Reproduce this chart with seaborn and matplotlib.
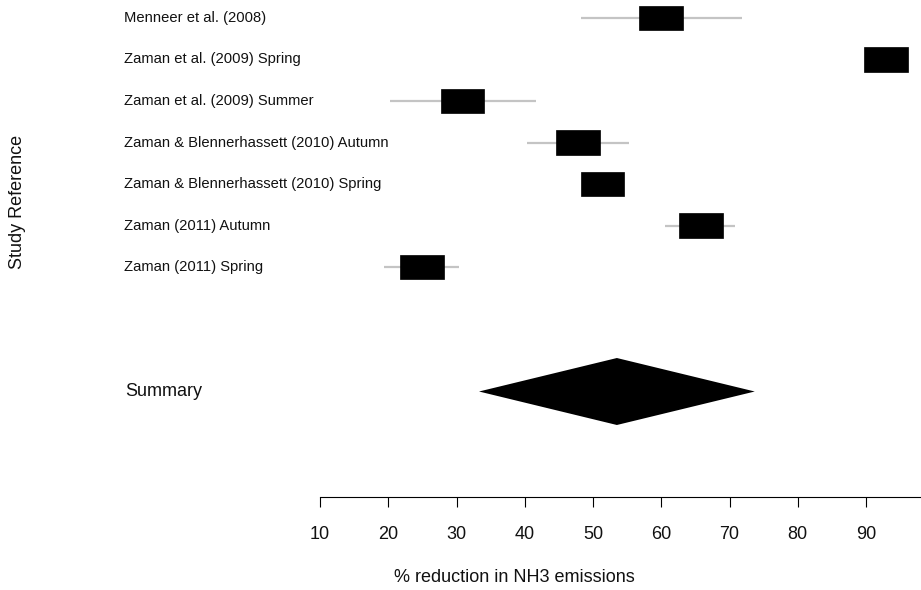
import matplotlib
matplotlib.use("Agg")
import matplotlib.pyplot as plt
import matplotlib.transforms as mtransforms
import numpy as np
import pandas as pd
import seaborn as sns

# ---- data ----
studies = [
    "Menneer et al. (2008)",
    "Zaman et al. (2009) Spring",
    "Zaman et al. (2009) Summer",
    "Zaman & Blennerhassett (2010) Autumn",
    "Zaman & Blennerhassett (2010) Spring",
    "Zaman (2011) Autumn",
    "Zaman (2011) Spring",
]
estimate = [60.0, 92.9, 30.9, 47.8, 51.4, 65.8, 24.9]
ci_lower = [48.3, 91.0, 20.2, 40.4, 49.5, 60.5, 19.4]
ci_upper = [71.8, 94.5, 41.7, 55.3, 53.5, 70.8, 30.4]

summary_label = "Summary"
summary_estimate = 53.5
summary_lower = 33.3
summary_upper = 73.7

x_ticks = [10, 20, 30, 40, 50, 60, 70, 80, 90]
x_label = "% reduction in NH3 emissions"
y_label = "Study Reference"

df = pd.DataFrame({"study": studies, "est": estimate, "lo": ci_lower, "hi": ci_upper})
df["row"] = np.arange(len(df))
summary_row = len(df) + 2

# ---- style ----
sns.set_theme(style="white")
plt.rcParams["font.family"] = ["Liberation Sans", "DejaVu Sans"]

W, H = 921, 590
fig = plt.figure(figsize=(W / 100, H / 100), dpi=100)
left_px, right_px = 320, 320 + 90 * 6.825
ax = fig.add_axes([left_px / W, 93 / H, (right_px - left_px) / W, 497 / H])

box_w = 6.4
box_h = 0.60

# CI lines
ax.hlines(df["row"], df["lo"], df["hi"], color="#c4c4c4", lw=1.6, zorder=1)
# boxes
ax.barh(df["row"], width=box_w, left=df["est"] - box_w / 2, height=box_h,
        color="black", edgecolor="black", lw=0.5, zorder=2)
# summary diamond
dh = 0.807
ax.fill([summary_lower, summary_estimate, summary_upper, summary_estimate],
        [summary_row, summary_row - dh, summary_row, summary_row + dh],
        color="black", lw=0, zorder=2)

ax.set_xlim(10, 100)
ax.set_ylim(11.542, -0.4337)
ax.set_xticks(x_ticks)
ax.set_xticklabels([str(t) for t in x_ticks], fontsize=13, color="#111111")
ax.set_yticks([])
ax.tick_params(axis="x", direction="out", length=7.5, width=0.8, color="black",
               pad=13.5, bottom=True)
for s in ["left", "right", "top"]:
    ax.spines[s].set_visible(False)
ax.spines["bottom"].set_color("black")
ax.spines["bottom"].set_linewidth(0.8)

# study labels
tr = mtransforms.blended_transform_factory(fig.transFigure, ax.transData)
for _, r in df.iterrows():
    ax.text(124 / W, r["row"], r["study"], transform=tr, ha="left", va="center",
            fontsize=10.6, color="#111111", clip_on=False)
ax.text(125 / W, summary_row, summary_label, transform=tr, ha="left", va="center",
        fontsize=13, color="#111111", clip_on=False)

fig.text(18 / W, 1 - 202 / H, y_label, rotation=90, ha="center", va="center",
         fontsize=13, color="#111111")
fig.text(514 / W, 1 - 578 / H, x_label, ha="center", va="center",
         fontsize=13, color="#111111")

fig.savefig("out.png", dpi=100)
